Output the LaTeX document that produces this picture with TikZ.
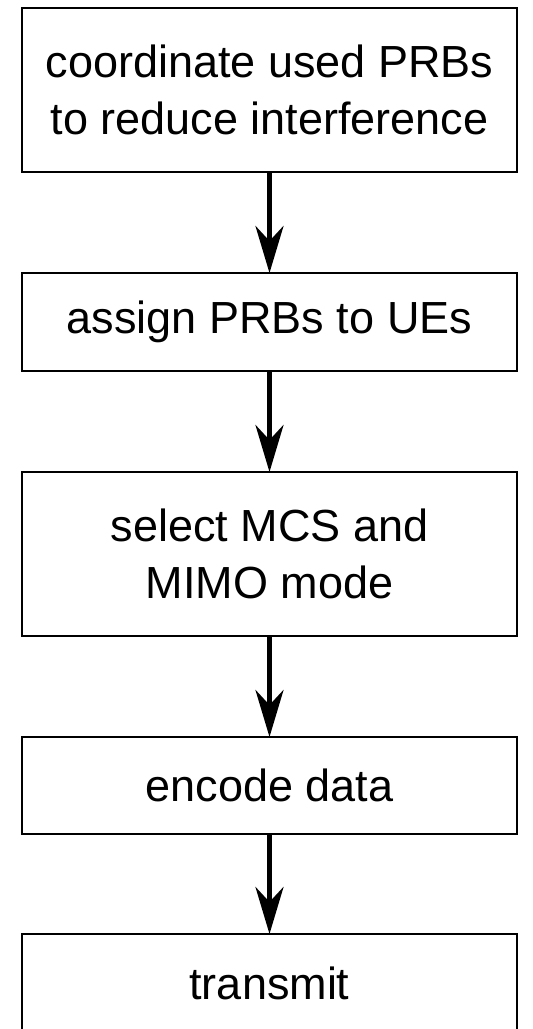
\documentclass[tikz,border=0pt]{standalone}
\usepackage{fontspec}
\setmainfont{Liberation Sans}
\usetikzlibrary{arrows.meta}
\begin{document}
\begin{tikzpicture}[x=1pt,y=-1pt,
  stepbox/.style={draw=black, line width=2.5pt, minimum width=495pt, inner sep=0pt, outer sep=0pt,
    align=center, font=\fontsize{45}{57}\selectfont},
  flow/.style={line width=5pt, -{Stealth[length=47pt,width=28pt,inset=15pt]}}]
\useasboundingbox (0,0) rectangle (533,1029);
\node[stepbox, minimum height=164pt] (b1) at (269.5,90) {coordinate used PRBs\\to reduce interference};
\node[stepbox, minimum height=98pt] (b2) at (269.5,322) {assign PRBs to UEs};
\node[stepbox, minimum height=164pt] (b3) at (269.5,554) {select MCS and\\MIMO mode};
\node[stepbox, minimum height=97pt] (b4) at (269.5,785.5) {encode data};
\node[stepbox, minimum height=98pt] (b5) at (269.5,983) {transmit};
\draw[flow] (b1) -- (b2);
\draw[flow] (b2) -- (b3);
\draw[flow] (b3) -- (b4);
\draw[flow] (b4) -- (b5);
\end{tikzpicture}
\end{document}
